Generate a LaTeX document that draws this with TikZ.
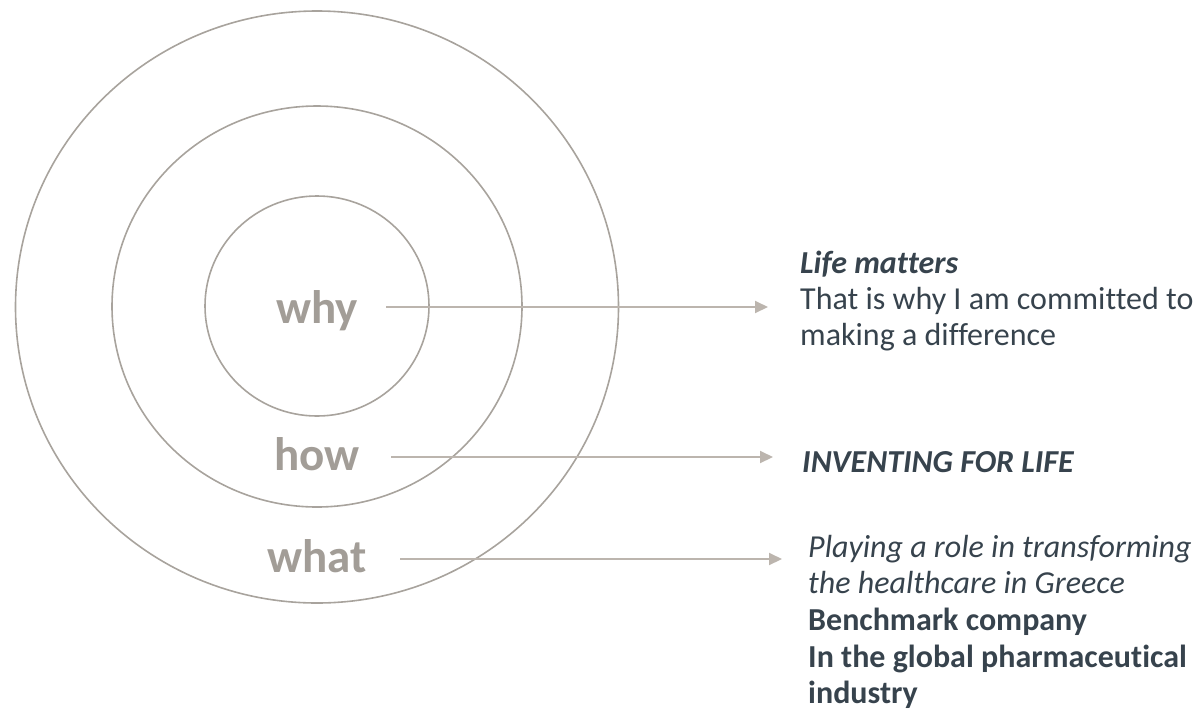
\documentclass[tikz,border=0pt]{standalone}
\usepackage{fontspec}
\setmainfont{Carlito}[Ligatures=NoCommon]
\usetikzlibrary{arrows.meta}
\definecolor{ringc}{HTML}{A8A39D}
\definecolor{labc}{HTML}{A29D97}
\definecolor{arrc}{HTML}{BCB5AE}
\definecolor{txtc}{HTML}{37434D}
\begin{document}
\begin{tikzpicture}[x=1pt,y=-1pt,
  ring/.style={draw=ringc,line width=1.6pt},
  lab/.style={text=labc,font=\fontsize{47}{47}\selectfont\bfseries,anchor=base,inner sep=0pt},
  conn/.style={draw=arrc,line width=2pt,-{Triangle[length=13pt,width=12pt]}},
  desc/.style={text=txtc,font=\fontsize{32}{36}\selectfont,anchor=base west,align=left,inner sep=0pt}]
\useasboundingbox (0,0) rectangle (1200,721);
\draw[ring] (317,307) ellipse [x radius=301.5, y radius=296];
\draw[ring] (317,306.5) ellipse [x radius=205, y radius=200.5];
\draw[ring] (317,306) ellipse [x radius=112, y radius=110];
\node[lab] (why) at (317,323) {why};
\node[lab] (how) at (317,470) {how};
\node[lab] (what) at (317,572) {what};
\coordinate (whyS) at (386,307);
\coordinate (howS) at (391,457);
\coordinate (whatS) at (400,559);
\coordinate (whyE) at (768,307);
\coordinate (howE) at (773,457);
\coordinate (whatE) at (782,559);
\draw[conn] (whyS) -- (whyE);
\draw[conn] (howS) -- (howE);
\draw[conn] (whatS) -- (whatE);
\node[desc] (d1a) at (800,273) {\textbf{\textit{Life matters}}};
\node[desc] (d1b) at (800,309) {That is why I am committed to};
\node[desc] (d1c) at (800,345) {making a difference};
\node[desc] (d2) at (802,472) {\textbf{\textit{INVENTING FOR LIFE}}};
\node[desc] (d3a) at (808,557) {\textit{Playing a role in transforming}};
\node[desc] (d3b) at (808,593) {\textit{the healthcare in Greece}};
\node[desc] (d3c) at (808,630) {\textbf{Benchmark company}};
\node[desc] (d3d) at (808,667) {\textbf{In the global pharmaceutical}};
\node[desc] (d3e) at (808,703) {\textbf{industry}};
\end{tikzpicture}
\end{document}
